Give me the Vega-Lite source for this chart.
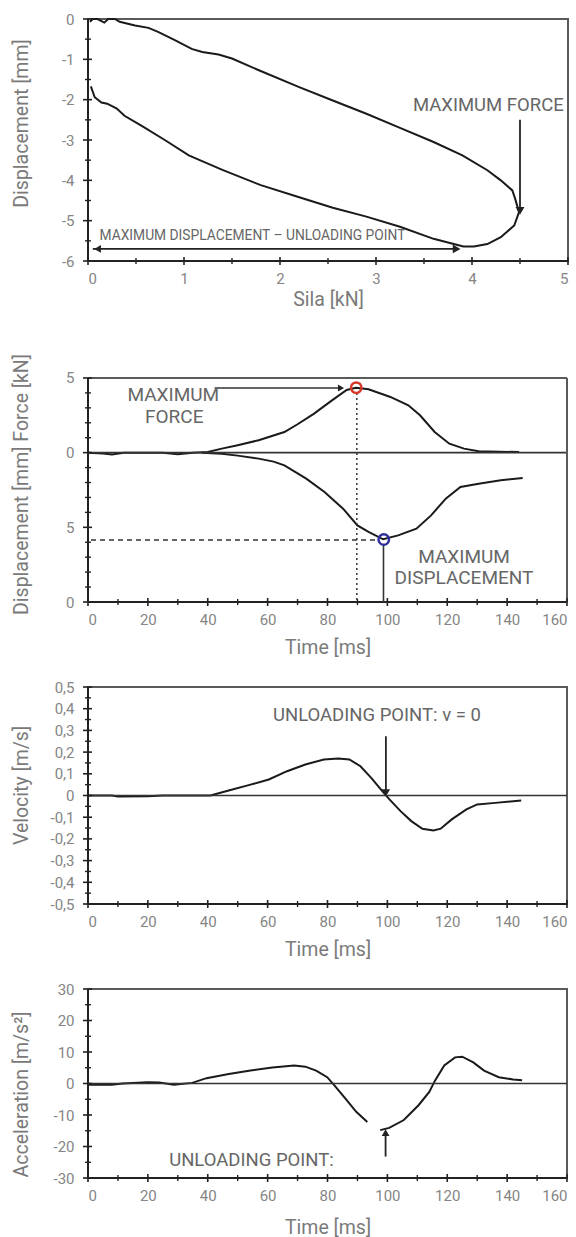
{
  "$schema": "https://vega.github.io/schema/vega-lite/v6.json",
  "background": "white",
  "padding": {"left": 9, "top": 11, "right": 5, "bottom": 5},
  "bounds": "flush",
  "spacing": 85,
  "datasets": {
    "p1x_major": [{"f":0},{"f":1},{"f":2},{"f":3},{"f":4},{"f":5}],
    "p1x_minor": [{"f":0.5},{"f":1.5},{"f":2.5},{"f":3.5},{"f":4.5}],
    "p1y_major": [{"d":0},{"d":-1},{"d":-2},{"d":-3},{"d":-4},{"d":-5},{"d":-6}],
    "p1y_minor": [{"d":-0.5},{"d":-1.5},{"d":-2.5},{"d":-3.5},{"d":-4.5},{"d":-5.5}],
    "tx_major": [{"t":0},{"t":20},{"t":40},{"t":60},{"t":80},{"t":100},{"t":120},{"t":140},{"t":160}],
    "tx_minor": [{"t":10},{"t":30},{"t":50},{"t":70},{"t":90},{"t":110},{"t":130},{"t":150}],
    "p2y_major": [{"v":5},{"v":0},{"v":-5},{"v":-10}],
    "p2y_minor": [{"v":4},{"v":3},{"v":2},{"v":1},{"v":-1},{"v":-2},{"v":-3},{"v":-4},{"v":-6},{"v":-7},{"v":-8},{"v":-9}],
    "p3y_major": [{"v":0.5},{"v":0.4},{"v":0.3},{"v":0.2},{"v":0.1},{"v":0},{"v":-0.1},{"v":-0.2},{"v":-0.3},{"v":-0.4},{"v":-0.5}],
    "p3y_minor": [{"v":0.45},{"v":0.35},{"v":0.25},{"v":0.15},{"v":0.05},{"v":-0.05},{"v":-0.15},{"v":-0.25},{"v":-0.35},{"v":-0.45}],
    "p4y_major": [{"v":30},{"v":20},{"v":10},{"v":0},{"v":-10},{"v":-20},{"v":-30}],
    "p4y_minor": [{"v":25},{"v":15},{"v":5},{"v":-5},{"v":-15},{"v":-25}]
  },
  "config": {
    "view": {"stroke": "#5a5a5a", "strokeWidth": 2},
    "axis": {
      "grid": false, "domain": false, "ticks": false, "labelOverlap": false, "tickCount": 100,
      "labelColor": "#858585", "labelFont": "Roboto", "labelFontSize": 15,
      "titleColor": "#7a7a7a", "titleFont": "Roboto", "titleFontSize": 19.5, "titleFontWeight": "normal"
    },
    "axisX": {"labelPadding": 10, "titleBaseline": "middle"},
    "axisY": {"labelPadding": 14, "titleBaseline": "middle", "titleX": -67},
    "text": {"font": "Roboto", "fontSize": 18.5, "color": "#666"},
    "rule": {"color": "#222"}
  },
  "vconcat": [
    {
      "width": 480, "height": 242,
      "layer": [
        {
          "data": {"values": [
            {"i":0,"f":0.02,"d":-0.07},{"i":1,"f":0.05,"d":0},{"i":2,"f":0.1,"d":0},{"i":3,"f":0.17,"d":-0.09},
            {"i":4,"f":0.21,"d":0},{"i":5,"f":0.28,"d":0},{"i":6,"f":0.33,"d":-0.07},{"i":7,"f":0.49,"d":-0.16},
            {"i":8,"f":0.63,"d":-0.22},{"i":9,"f":0.73,"d":-0.32},{"i":10,"f":0.91,"d":-0.53},{"i":11,"f":1.08,"d":-0.74},
            {"i":12,"f":1.19,"d":-0.82},{"i":13,"f":1.36,"d":-0.88},{"i":14,"f":1.5,"d":-0.98},{"i":15,"f":1.78,"d":-1.27},
            {"i":16,"f":2.2,"d":-1.69},{"i":17,"f":2.55,"d":-2.02},{"i":18,"f":2.9,"d":-2.35},{"i":19,"f":3.25,"d":-2.7},
            {"i":20,"f":3.6,"d":-3.05},{"i":21,"f":3.9,"d":-3.38},{"i":22,"f":4.16,"d":-3.75},{"i":23,"f":4.3,"d":-4.0},
            {"i":24,"f":4.42,"d":-4.25},{"i":25,"f":4.45,"d":-4.46},{"i":26,"f":4.49,"d":-4.79},{"i":27,"f":4.44,"d":-5.12},
            {"i":28,"f":4.3,"d":-5.41},{"i":29,"f":4.16,"d":-5.58},{"i":30,"f":4.02,"d":-5.64},{"i":31,"f":3.91,"d":-5.64},
            {"i":32,"f":3.6,"d":-5.45},{"i":33,"f":3.25,"d":-5.15},{"i":34,"f":2.9,"d":-4.9},{"i":35,"f":2.55,"d":-4.68},
            {"i":36,"f":2.2,"d":-4.42},{"i":37,"f":1.8,"d":-4.12},{"i":38,"f":1.4,"d":-3.74},{"i":39,"f":1.05,"d":-3.38},
            {"i":40,"f":0.8,"d":-3.0},{"i":41,"f":0.56,"d":-2.65},{"i":42,"f":0.38,"d":-2.4},{"i":43,"f":0.3,"d":-2.22},
            {"i":44,"f":0.2,"d":-2.1},{"i":45,"f":0.14,"d":-2.07},{"i":46,"f":0.07,"d":-1.94},{"i":47,"f":0.03,"d":-1.67}
          ]},
          "mark": {"type": "line", "color": "#1a1a1a", "strokeWidth": 2},
          "encoding": {
            "x": {"field": "f", "type": "quantitative", "scale": {"domain": [0, 5], "nice": false, "zero": false},
                  "axis": {"title": "Sila [kN]", "titleY": 38, "tickCount": 100, "values": [0,1,2,3,4,5], "labelExpr": "toString(datum.value)"}},
            "y": {"field": "d", "type": "quantitative", "scale": {"domain": [-6, 0], "nice": false, "zero": false},
                  "axis": {"title": "Displacement [mm]", "titleY": 104, "tickCount": 100, "values": [0,-1,-2,-3,-4,-5,-6], "labelExpr": "toString(datum.value)"}},
            "order": {"field": "i", "type": "quantitative"}
          }
        },
        {
          "data": {"values": [{"f":0,"f2":0,"d":0,"d2":-6},{"f":0,"f2":5,"d":-6,"d2":-6}]},
          "mark": {"type": "rule", "strokeWidth": 2},
          "encoding": {"x": {"field": "f", "type": "quantitative"}, "x2": {"field": "f2"},
                       "y": {"field": "d", "type": "quantitative"}, "y2": {"field": "d2"}}
        },
        {
          "data": {"name": "p1x_major"},
          "mark": {"type": "rule", "strokeWidth": 1.6, "yOffset": -4, "y2Offset": 4},
          "encoding": {"x": {"field": "f", "type": "quantitative"}, "y": {"datum": -6}, "y2": {"datum": -6}}
        },
        {
          "data": {"name": "p1x_minor"},
          "mark": {"type": "rule", "strokeWidth": 1.4, "yOffset": -3, "y2Offset": 3},
          "encoding": {"x": {"field": "f", "type": "quantitative"}, "y": {"datum": -6}, "y2": {"datum": -6}}
        },
        {
          "data": {"name": "p1y_major"},
          "mark": {"type": "rule", "strokeWidth": 1.6, "xOffset": -5, "x2Offset": 4},
          "encoding": {"y": {"field": "d", "type": "quantitative"}, "x": {"datum": 0}, "x2": {"datum": 0}}
        },
        {
          "data": {"name": "p1y_minor"},
          "mark": {"type": "rule", "strokeWidth": 1.4, "xOffset": -3, "x2Offset": 3},
          "encoding": {"y": {"field": "d", "type": "quantitative"}, "x": {"datum": 0}, "x2": {"datum": 0}}
        },
        {
          "data": {"values": [{"f":4.5,"f2":4.5,"d":-2.5,"d2":-4.7},{"f":0.05,"f2":3.85,"d":-5.7,"d2":-5.7}]},
          "mark": {"type": "rule", "strokeWidth": 1.8},
          "encoding": {"x": {"field": "f", "type": "quantitative"}, "x2": {"field": "f2"},
                       "y": {"field": "d", "type": "quantitative"}, "y2": {"field": "d2"}}
        },
        {
          "data": {"values": [{"f":4.5,"d":-4.76}]},
          "mark": {"type": "point", "shape": "triangle-down", "filled": true, "color": "#222", "size": 80, "opacity": 1},
          "encoding": {"x": {"field": "f", "type": "quantitative"}, "y": {"field": "d", "type": "quantitative"}}
        },
        {
          "data": {"values": [{"f":0.1,"d":-5.7}]},
          "mark": {"type": "point", "shape": "triangle-left", "filled": true, "color": "#222", "size": 60, "opacity": 1},
          "encoding": {"x": {"field": "f", "type": "quantitative"}, "y": {"field": "d", "type": "quantitative"}}
        },
        {
          "data": {"values": [{"f":3.84,"d":-5.7}]},
          "mark": {"type": "point", "shape": "triangle-right", "filled": true, "color": "#222", "size": 80, "opacity": 1},
          "encoding": {"x": {"field": "f", "type": "quantitative"}, "y": {"field": "d", "type": "quantitative"}}
        },
        {
          "data": {"values": [{"f":4.17,"d":-2.13,"label":"MAXIMUM FORCE"}]},
          "mark": {"type": "text", "align": "center", "baseline": "middle"},
          "encoding": {"x": {"field": "f", "type": "quantitative"}, "y": {"field": "d", "type": "quantitative"}, "text": {"field": "label"}}
        },
        {
          "data": {"values": [{"f":0.12,"d":-5.37,"label":"MAXIMUM DISPLACEMENT – UNLOADING POINT"}]},
          "mark": {"type": "text", "align": "left", "baseline": "middle", "font": "Roboto", "fontSize": 13.8},
          "encoding": {"x": {"field": "f", "type": "quantitative"}, "y": {"field": "d", "type": "quantitative"}, "text": {"field": "label"}}
        }
      ]
    },
    {
      "width": 479, "height": 256,
      "view": {"stroke": null},
      "layer": [
        {
          "data": {"values": [
            {"s":"force","t":0,"v":0},{"s":"force","t":5,"v":-0.05},{"s":"force","t":8,"v":-0.12},{"s":"force","t":12,"v":0},
            {"s":"force","t":25,"v":0},{"s":"force","t":30,"v":-0.1},{"s":"force","t":35,"v":0},{"s":"force","t":40,"v":0.05},
            {"s":"force","t":44.7,"v":0.27},{"s":"force","t":50,"v":0.5},{"s":"force","t":57,"v":0.83},{"s":"force","t":65.6,"v":1.38},
            {"s":"force","t":70,"v":1.9},{"s":"force","t":75.4,"v":2.6},{"s":"force","t":81.5,"v":3.5},{"s":"force","t":86.4,"v":4.2},
            {"s":"force","t":89.5,"v":4.35},{"s":"force","t":93.7,"v":4.24},{"s":"force","t":101,"v":3.73},{"s":"force","t":107,"v":3.17},
            {"s":"force","t":110.9,"v":2.5},{"s":"force","t":115.8,"v":1.38},{"s":"force","t":120.7,"v":0.6},{"s":"force","t":125.6,"v":0.27},
            {"s":"force","t":130.5,"v":0.09},{"s":"force","t":144,"v":0.04},
            {"s":"disp","t":38,"v":0},{"s":"disp","t":44.7,"v":-0.07},{"s":"disp","t":50,"v":-0.2},{"s":"disp","t":57,"v":-0.4},
            {"s":"disp","t":62,"v":-0.6},{"s":"disp","t":65.6,"v":-0.85},{"s":"disp","t":72.9,"v":-1.74},{"s":"disp","t":79,"v":-2.63},
            {"s":"disp","t":85.2,"v":-3.75},{"s":"disp","t":90,"v":-4.87},{"s":"disp","t":93.7,"v":-5.31},{"s":"disp","t":98.6,"v":-5.8},
            {"s":"disp","t":103.6,"v":-5.54},{"s":"disp","t":109.7,"v":-5.09},{"s":"disp","t":114.6,"v":-4.2},{"s":"disp","t":119.5,"v":-3.08},
            {"s":"disp","t":124.4,"v":-2.3},{"s":"disp","t":130.5,"v":-2.08},{"s":"disp","t":137.9,"v":-1.85},{"s":"disp","t":145.2,"v":-1.7}
          ]},
          "mark": {"type": "line", "color": "#1a1a1a", "strokeWidth": 2},
          "encoding": {
            "x": {"field": "t", "type": "quantitative", "scale": {"domain": [0, 160], "nice": false, "zero": false},
                  "axis": {"title": "Time [ms]", "titleY": 45, "tickCount": 100, "values": [0,20,40,60,80,100,120,140,160], "labelExpr": "toString(datum.value)"}},
            "y": {"field": "v", "type": "quantitative", "scale": {"domain": [-10, 7.14], "nice": false, "zero": false},
                  "axis": {"title": "Displacement [mm]   Force [kN]", "titleY": 138, "tickCount": 100,
                           "values": [5,0,-5,-10], "labelExpr": "toString(abs(datum.value) % 10)"}},
            "detail": {"field": "s", "type": "nominal"}
          }
        },
        {
          "data": {"values": [{"t":0,"t2":160,"v":0,"v2":0}]},
          "mark": {"type": "rule", "color": "#333", "strokeWidth": 1.6},
          "encoding": {"x": {"field": "t", "type": "quantitative"}, "x2": {"field": "t2"},
                       "y": {"field": "v", "type": "quantitative"}, "y2": {"field": "v2"}}
        },
        {
          "data": {"values": [{"t":0,"t2":160,"v":5,"v2":5},{"t":160,"t2":160,"v":5,"v2":-10}]},
          "mark": {"type": "rule", "color": "#5a5a5a", "strokeWidth": 2},
          "encoding": {"x": {"field": "t", "type": "quantitative"}, "x2": {"field": "t2"},
                       "y": {"field": "v", "type": "quantitative"}, "y2": {"field": "v2"}}
        },
        {
          "data": {"values": [{"t":0,"t2":0,"v":5,"v2":-10},{"t":0,"t2":160,"v":-10,"v2":-10}]},
          "mark": {"type": "rule", "strokeWidth": 2},
          "encoding": {"x": {"field": "t", "type": "quantitative"}, "x2": {"field": "t2"},
                       "y": {"field": "v", "type": "quantitative"}, "y2": {"field": "v2"}}
        },
        {
          "data": {"name": "tx_major"},
          "mark": {"type": "rule", "strokeWidth": 1.6, "yOffset": -4, "y2Offset": 4},
          "encoding": {"x": {"field": "t", "type": "quantitative"}, "y": {"datum": -10}, "y2": {"datum": -10}}
        },
        {
          "data": {"name": "tx_minor"},
          "mark": {"type": "rule", "strokeWidth": 1.4, "yOffset": -3, "y2Offset": 3},
          "encoding": {"x": {"field": "t", "type": "quantitative"}, "y": {"datum": -10}, "y2": {"datum": -10}}
        },
        {
          "data": {"name": "p2y_major"},
          "mark": {"type": "rule", "strokeWidth": 1.6, "xOffset": -5, "x2Offset": 4},
          "encoding": {"y": {"field": "v", "type": "quantitative"}, "x": {"datum": 0}, "x2": {"datum": 0}}
        },
        {
          "data": {"name": "p2y_minor"},
          "mark": {"type": "rule", "strokeWidth": 1.4, "xOffset": -3, "x2Offset": 3},
          "encoding": {"y": {"field": "v", "type": "quantitative"}, "x": {"datum": 0}, "x2": {"datum": 0}}
        },
        {
          "data": {"values": [{"t":89.8,"t2":89.8,"v":4.0,"v2":-10}]},
          "mark": {"type": "rule", "color": "#333", "strokeWidth": 1.5, "strokeDash": [2, 3]},
          "encoding": {"x": {"field": "t", "type": "quantitative"}, "x2": {"field": "t2"},
                       "y": {"field": "v", "type": "quantitative"}, "y2": {"field": "v2"}}
        },
        {
          "data": {"values": [{"t":1,"t2":96.8,"v":-5.85,"v2":-5.85}]},
          "mark": {"type": "rule", "color": "#333", "strokeWidth": 1.3, "strokeDash": [5, 4]},
          "encoding": {"x": {"field": "t", "type": "quantitative"}, "x2": {"field": "t2"},
                       "y": {"field": "v", "type": "quantitative"}, "y2": {"field": "v2"}}
        },
        {
          "data": {"values": [{"t":98.7,"t2":98.7,"v":-6.2,"v2":-10},{"t":42.3,"t2":84,"v":4.33,"v2":4.33}]},
          "mark": {"type": "rule", "color": "#333", "strokeWidth": 1.6},
          "encoding": {"x": {"field": "t", "type": "quantitative"}, "x2": {"field": "t2"},
                       "y": {"field": "v", "type": "quantitative"}, "y2": {"field": "v2"}}
        },
        {
          "data": {"values": [{"t":84.5,"v":4.33}]},
          "mark": {"type": "point", "shape": "triangle-right", "filled": true, "color": "#222", "size": 50, "opacity": 1},
          "encoding": {"x": {"field": "t", "type": "quantitative"}, "y": {"field": "v", "type": "quantitative"}}
        },
        {
          "data": {"values": [{"t":89.6,"v":4.35}]},
          "mark": {"type": "point", "shape": "circle", "filled": false, "color": "#d8382a", "size": 110, "strokeWidth": 2.4, "opacity": 1},
          "encoding": {"x": {"field": "t", "type": "quantitative"}, "y": {"field": "v", "type": "quantitative"}}
        },
        {
          "data": {"values": [{"t":98.8,"v":-5.82}]},
          "mark": {"type": "point", "shape": "circle", "filled": false, "color": "#2e2e9a", "size": 110, "strokeWidth": 2.4, "opacity": 1},
          "encoding": {"x": {"field": "t", "type": "quantitative"}, "y": {"field": "v", "type": "quantitative"}}
        },
        {
          "data": {"values": [
            {"t":28.5,"v":3.84,"label":"MAXIMUM"},{"t":28.8,"v":2.39,"label":"FORCE"},
            {"t":125.6,"v":-6.99,"label":"MAXIMUM"},{"t":125.6,"v":-8.39,"label":"DISPLACEMENT"}
          ]},
          "mark": {"type": "text", "align": "center", "baseline": "middle", "fontSize": 19},
          "encoding": {"x": {"field": "t", "type": "quantitative"}, "y": {"field": "v", "type": "quantitative"}, "text": {"field": "label"}}
        }
      ]
    },
    {
      "width": 479, "height": 217,
      "layer": [
        {
          "data": {"values": [
            {"t":0,"v":0},{"t":8,"v":0},{"t":10,"v":-0.005},{"t":20,"v":-0.004},{"t":25,"v":0},{"t":40.9,"v":0},
            {"t":47,"v":0.023},{"t":54.3,"v":0.05},{"t":60.4,"v":0.074},{"t":66.5,"v":0.112},{"t":72.6,"v":0.143},
            {"t":78.8,"v":0.166},{"t":83.6,"v":0.17},{"t":87.3,"v":0.166},{"t":91,"v":0.135},{"t":94.6,"v":0.081},
            {"t":98.3,"v":0.02},{"t":100.7,"v":-0.018},{"t":104.4,"v":-0.072},{"t":108,"v":-0.118},{"t":111.7,"v":-0.153},
            {"t":115.4,"v":-0.161},{"t":117.8,"v":-0.153},{"t":121.5,"v":-0.11},{"t":126.4,"v":-0.064},{"t":130,"v":-0.041},
            {"t":136,"v":-0.034},{"t":144.7,"v":-0.023}
          ]},
          "mark": {"type": "line", "color": "#1a1a1a", "strokeWidth": 2},
          "encoding": {
            "x": {"field": "t", "type": "quantitative", "scale": {"domain": [0, 160], "nice": false, "zero": false},
                  "axis": {"title": "Time [ms]", "titleY": 45, "tickCount": 100, "values": [0,20,40,60,80,100,120,140,160], "labelExpr": "toString(datum.value)"}},
            "y": {"field": "v", "type": "quantitative", "scale": {"domain": [-0.5, 0.5], "nice": false, "zero": false},
                  "axis": {"title": "Velocity [m/s]", "titleY": 98, "tickCount": 100,
                           "values": [0.5,0.4,0.3,0.2,0.1,0,-0.1,-0.2,-0.3,-0.4,-0.5],
                           "labelExpr": "replace(toString(datum.value), '.', ',')"}}
          }
        },
        {
          "data": {"values": [{"t":0,"t2":160,"v":0,"v2":0}]},
          "mark": {"type": "rule", "color": "#333", "strokeWidth": 1.6},
          "encoding": {"x": {"field": "t", "type": "quantitative"}, "x2": {"field": "t2"},
                       "y": {"field": "v", "type": "quantitative"}, "y2": {"field": "v2"}}
        },
        {
          "data": {"values": [{"t":0,"t2":0,"v":0.5,"v2":-0.5},{"t":0,"t2":160,"v":-0.5,"v2":-0.5}]},
          "mark": {"type": "rule", "strokeWidth": 2},
          "encoding": {"x": {"field": "t", "type": "quantitative"}, "x2": {"field": "t2"},
                       "y": {"field": "v", "type": "quantitative"}, "y2": {"field": "v2"}}
        },
        {
          "data": {"name": "tx_major"},
          "mark": {"type": "rule", "strokeWidth": 1.6, "yOffset": -4, "y2Offset": 4},
          "encoding": {"x": {"field": "t", "type": "quantitative"}, "y": {"datum": -0.5}, "y2": {"datum": -0.5}}
        },
        {
          "data": {"name": "tx_minor"},
          "mark": {"type": "rule", "strokeWidth": 1.4, "yOffset": -3, "y2Offset": 3},
          "encoding": {"x": {"field": "t", "type": "quantitative"}, "y": {"datum": -0.5}, "y2": {"datum": -0.5}}
        },
        {
          "data": {"name": "p3y_major"},
          "mark": {"type": "rule", "strokeWidth": 1.6, "xOffset": -5, "x2Offset": 4},
          "encoding": {"y": {"field": "v", "type": "quantitative"}, "x": {"datum": 0}, "x2": {"datum": 0}}
        },
        {
          "data": {"name": "p3y_minor"},
          "mark": {"type": "rule", "strokeWidth": 1.4, "xOffset": -3, "x2Offset": 3},
          "encoding": {"y": {"field": "v", "type": "quantitative"}, "x": {"datum": 0}, "x2": {"datum": 0}}
        },
        {
          "data": {"values": [{"t":99.5,"t2":99.5,"v":0.273,"v2":0.02}]},
          "mark": {"type": "rule", "strokeWidth": 1.8},
          "encoding": {"x": {"field": "t", "type": "quantitative"}, "x2": {"field": "t2"},
                       "y": {"field": "v", "type": "quantitative"}, "y2": {"field": "v2"}}
        },
        {
          "data": {"values": [{"t":99.5,"v":0.012}]},
          "mark": {"type": "point", "shape": "triangle-down", "filled": true, "color": "#222", "size": 70, "opacity": 1},
          "encoding": {"x": {"field": "t", "type": "quantitative"}, "y": {"field": "v", "type": "quantitative"}}
        },
        {
          "data": {"values": [{"t":96.5,"v":0.373,"label":"UNLOADING POINT: v = 0"}]},
          "mark": {"type": "text", "align": "center", "baseline": "middle"},
          "encoding": {"x": {"field": "t", "type": "quantitative"}, "y": {"field": "v", "type": "quantitative"}, "text": {"field": "label"}}
        }
      ]
    },
    {
      "width": 479, "height": 189,
      "layer": [
        {
          "data": {"values": [
            {"seg":1,"t":0,"v":-0.4},{"seg":1,"t":7.9,"v":-0.4},{"seg":1,"t":11.6,"v":0},{"seg":1,"t":20,"v":0.4},
            {"seg":1,"t":23.8,"v":0.3},{"seg":1,"t":28.7,"v":-0.4},{"seg":1,"t":34.8,"v":0.2},{"seg":1,"t":39.6,"v":1.7},
            {"seg":1,"t":47,"v":3},{"seg":1,"t":54.3,"v":4.1},{"seg":1,"t":61.6,"v":5.1},{"seg":1,"t":68.9,"v":5.7},
            {"seg":1,"t":72.6,"v":5.35},{"seg":1,"t":76.2,"v":4.1},{"seg":1,"t":79.9,"v":2},{"seg":1,"t":82.3,"v":-0.6},
            {"seg":1,"t":86,"v":-4.8},{"seg":1,"t":89.6,"v":-9},{"seg":1,"t":93.3,"v":-12.2},
            {"seg":2,"t":97.6,"v":-14.8},{"seg":2,"t":100.6,"v":-14.1},{"seg":2,"t":105.5,"v":-11.6},{"seg":2,"t":110.4,"v":-6.9},
            {"seg":2,"t":114,"v":-2.7},{"seg":2,"t":115.9,"v":0.9},{"seg":2,"t":119,"v":5.7},{"seg":2,"t":122.6,"v":8.3},
            {"seg":2,"t":125,"v":8.5},{"seg":2,"t":128.7,"v":6.7},{"seg":2,"t":132.3,"v":4.1},{"seg":2,"t":137.2,"v":2},
            {"seg":2,"t":142,"v":1.3},{"seg":2,"t":145,"v":1.05}
          ]},
          "mark": {"type": "line", "color": "#1a1a1a", "strokeWidth": 2},
          "encoding": {
            "x": {"field": "t", "type": "quantitative", "scale": {"domain": [0, 160], "nice": false, "zero": false},
                  "axis": {"title": "Time [ms]", "titleY": 49, "tickCount": 100, "values": [0,20,40,60,80,100,120,140,160], "labelExpr": "toString(datum.value)"}},
            "y": {"field": "v", "type": "quantitative", "scale": {"domain": [-30, 30], "nice": false, "zero": false},
                  "axis": {"title": "Acceleration [m/s²]", "titleY": 105, "tickCount": 100,
                           "values": [30,20,10,0,-10,-20,-30], "labelExpr": "toString(datum.value)"}},
            "detail": {"field": "seg", "type": "nominal"}
          }
        },
        {
          "data": {"values": [{"t":0,"t2":160,"v":0,"v2":0}]},
          "mark": {"type": "rule", "color": "#333", "strokeWidth": 1.6},
          "encoding": {"x": {"field": "t", "type": "quantitative"}, "x2": {"field": "t2"},
                       "y": {"field": "v", "type": "quantitative"}, "y2": {"field": "v2"}}
        },
        {
          "data": {"values": [{"t":0,"t2":0,"v":30,"v2":-30},{"t":0,"t2":160,"v":-30,"v2":-30}]},
          "mark": {"type": "rule", "strokeWidth": 2},
          "encoding": {"x": {"field": "t", "type": "quantitative"}, "x2": {"field": "t2"},
                       "y": {"field": "v", "type": "quantitative"}, "y2": {"field": "v2"}}
        },
        {
          "data": {"name": "tx_major"},
          "mark": {"type": "rule", "strokeWidth": 1.6, "yOffset": -4, "y2Offset": 4},
          "encoding": {"x": {"field": "t", "type": "quantitative"}, "y": {"datum": -30}, "y2": {"datum": -30}}
        },
        {
          "data": {"name": "tx_minor"},
          "mark": {"type": "rule", "strokeWidth": 1.4, "yOffset": -3, "y2Offset": 3},
          "encoding": {"x": {"field": "t", "type": "quantitative"}, "y": {"datum": -30}, "y2": {"datum": -30}}
        },
        {
          "data": {"name": "p4y_major"},
          "mark": {"type": "rule", "strokeWidth": 1.6, "xOffset": -5, "x2Offset": 4},
          "encoding": {"y": {"field": "v", "type": "quantitative"}, "x": {"datum": 0}, "x2": {"datum": 0}}
        },
        {
          "data": {"name": "p4y_minor"},
          "mark": {"type": "rule", "strokeWidth": 1.4, "xOffset": -3, "x2Offset": 3},
          "encoding": {"y": {"field": "v", "type": "quantitative"}, "x": {"datum": 0}, "x2": {"datum": 0}}
        },
        {
          "data": {"values": [{"t":99.4,"t2":99.4,"v":-23.2,"v2":-16}]},
          "mark": {"type": "rule", "strokeWidth": 1.8},
          "encoding": {"x": {"field": "t", "type": "quantitative"}, "x2": {"field": "t2"},
                       "y": {"field": "v", "type": "quantitative"}, "y2": {"field": "v2"}}
        },
        {
          "data": {"values": [{"t":99.4,"v":-15.6}]},
          "mark": {"type": "point", "shape": "triangle-up", "filled": true, "color": "#222", "size": 60, "opacity": 1},
          "encoding": {"x": {"field": "t", "type": "quantitative"}, "y": {"field": "v", "type": "quantitative"}}
        },
        {
          "data": {"values": [{"t":54.6,"v":-24.2,"label":"UNLOADING POINT:"}]},
          "mark": {"type": "text", "align": "center", "baseline": "middle"},
          "encoding": {"x": {"field": "t", "type": "quantitative"}, "y": {"field": "v", "type": "quantitative"}, "text": {"field": "label"}}
        }
      ]
    }
  ]
}
